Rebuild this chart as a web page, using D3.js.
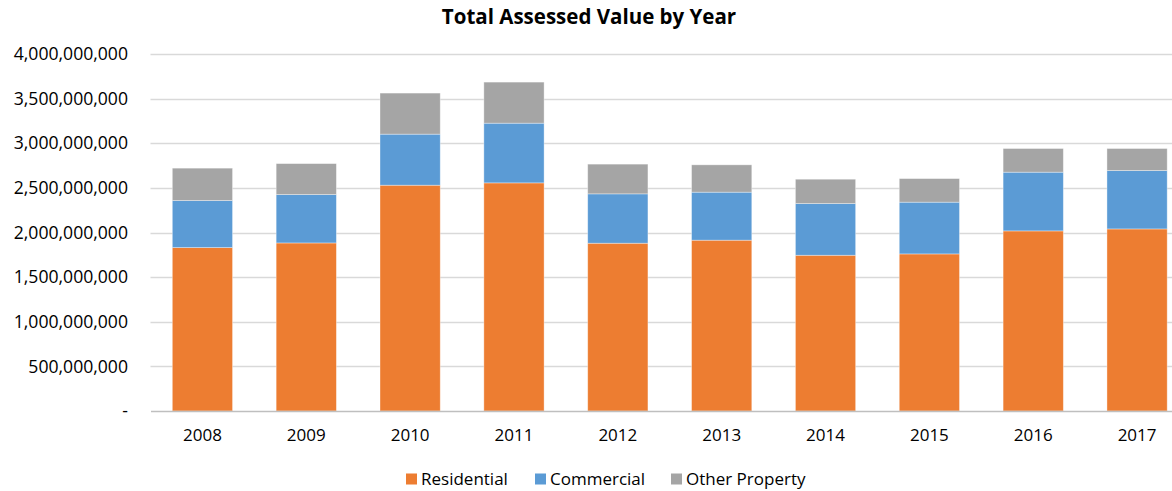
<!DOCTYPE html>
<html lang="en">
<head>
<meta charset="utf-8">
<title>Total Assessed Value by Year</title>
<script src="https://cdn.jsdelivr.net/npm/d3@7"></script>
<style>
  body { margin: 0; background: #fff; }
  svg { display: block; font-family: "Open Sans", "Noto Sans", sans-serif; }
</style>
</head>
<body>
<svg id="chart" width="1172" height="491"></svg>
<script>
// values
var years = ["2008", "2009", "2010", "2011", "2012", "2013", "2014", "2015", "2016", "2017"];
var residential = [1831e6, 1883e6, 2530e6, 2556e6, 1880e6, 1914e6, 1745e6, 1760e6, 2018e6, 2040e6];
var commercial  = [527e6, 542e6, 572e6, 669e6, 553e6, 538e6, 579e6, 580e6, 658e6, 654e6];
var otherProp   = [363e6, 347e6, 460e6, 460e6, 333e6, 306e6, 273e6, 264e6, 265e6, 247e6];
var seriesNames = ["Residential", "Commercial", "Other Property"];
var colors = ["#ED7D31", "#5B9BD5", "#A5A5A5"];
var yTicks = [0, 5e8, 1e9, 1.5e9, 2e9, 2.5e9, 3e9, 3.5e9, 4e9];

var svg = d3.select("#chart");
var plotLeft = 150.5, plotRight = 1189, plotTop = 54, plotBottom = 411;

var rows = years.map(function (y, i) {
  return { year: y, "Residential": residential[i], "Commercial": commercial[i], "Other Property": otherProp[i] };
});
var stacked = d3.stack().keys(seriesNames)(rows);

var x = d3.scaleBand().domain(years).range([plotLeft, plotRight]).paddingInner(0.42).paddingOuter(0.21);
var y = d3.scaleLinear().domain([0, 4e9]).range([plotBottom, plotTop]);

// gridlines
svg.append("g")
  .selectAll("line")
  .data(yTicks.slice(1))
  .enter().append("line")
  .attr("x1", plotLeft).attr("x2", plotRight)
  .attr("y1", function (d) { return Math.round(y(d)) + 0.5; })
  .attr("y2", function (d) { return Math.round(y(d)) + 0.5; })
  .attr("stroke", "#d9d9d9").attr("stroke-width", 1.3);

// y labels
var fmt = d3.format(",");
svg.append("g")
  .attr("font-size", 17.6).attr("fill", "#000").attr("text-anchor", "end")
  .selectAll("text")
  .data(yTicks)
  .enter().append("text")
  .attr("x", 128)
  .attr("y", function (d) { return y(d); })
  .attr("dy", "0.35em")
  .text(function (d) { return d === 0 ? "-" : fmt(d); });

// bars
svg.append("g")
  .selectAll("g")
  .data(stacked)
  .enter().append("g")
  .attr("fill", function (d, i) { return colors[i]; })
  .selectAll("rect")
  .data(function (d) { return d; })
  .enter().append("rect")
  .attr("x", function (d) { return x(d.data.year); })
  .attr("width", x.bandwidth())
  .attr("y", function (d) { return y(d[1]); })
  .attr("height", function (d) { return y(d[0]) - y(d[1]); })
  .attr("stroke", "rgba(255,255,255,0.45)").attr("stroke-width", 0.8);

// x axis
var xAxis = svg.append("g")
  .attr("transform", "translate(0," + plotBottom + ")")
  .call(d3.axisBottom(x).tickSize(0).tickPadding(18));
xAxis.select(".domain").attr("stroke", "#bfbfbf").attr("stroke-width", 1.3);
xAxis.selectAll("text").attr("font-size", 17).attr("fill", "#000")
  .attr("font-family", "'Open Sans', 'Noto Sans', sans-serif");

// title
svg.append("text")
  .attr("x", 589).attr("y", 24)
  .attr("text-anchor", "middle")
  .attr("font-size", 20.5).attr("font-weight", "bold")
  .text("Total Assessed Value by Year");

// legend
var legendX = [406, 535, 671];
var legend = svg.append("g")
  .selectAll("g")
  .data(seriesNames)
  .enter().append("g")
  .attr("transform", function (d, i) { return "translate(" + legendX[i] + ",479)"; });
legend.append("rect")
  .attr("x", 0).attr("y", -5.5).attr("width", 11).attr("height", 11)
  .attr("fill", function (d, i) { return colors[i]; });
legend.append("text")
  .attr("x", 15).attr("dy", "0.35em")
  .attr("font-size", 17)
  .text(function (d) { return d; });
</script>
</body>
</html>
